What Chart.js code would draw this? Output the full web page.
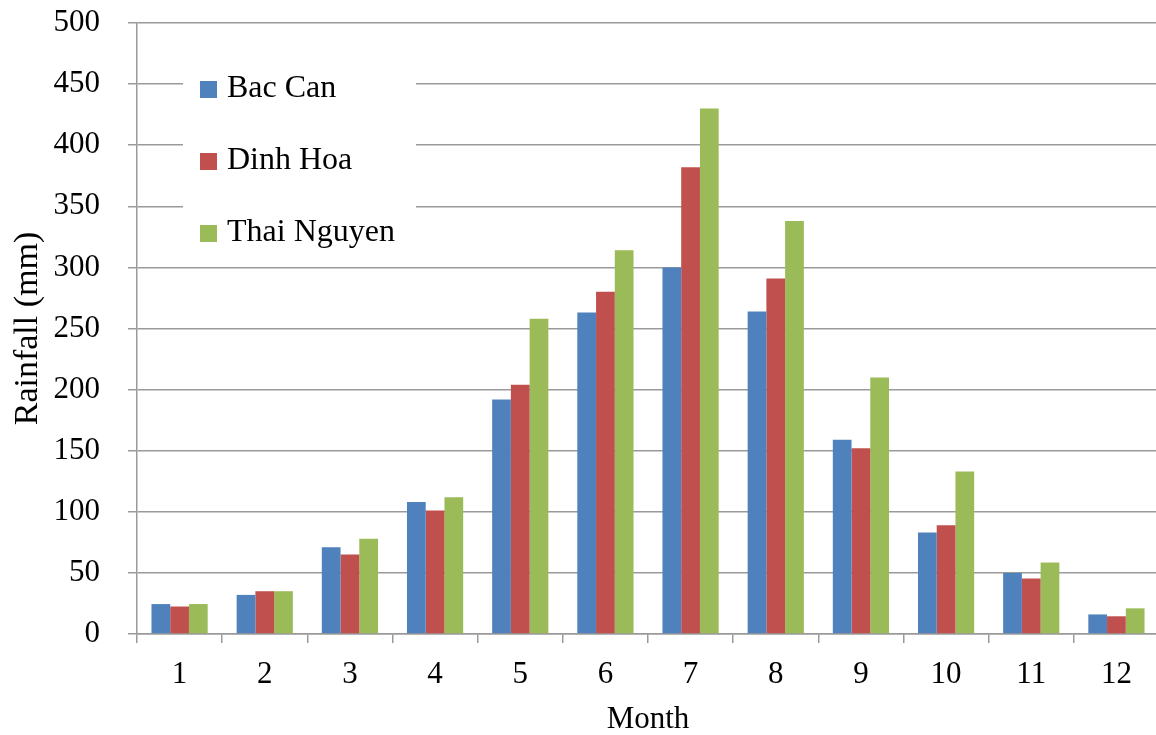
<!DOCTYPE html>
<html>
<head>
<meta charset="utf-8">
<script src="https://cdn.jsdelivr.net/npm/chart.js@4.4.1/dist/chart.umd.min.js"></script>
<style>
  html, body { margin: 0; padding: 0; background: #ffffff; overflow: hidden; }
  #wrap { position: relative; width: 1160px; height: 735px; }
</style>
</head>
<body>
<div id="wrap"><canvas id="c"></canvas></div>
<script>
// Monthly rainfall (mm) at three stations
const months = ['1', '2', '3', '4', '5', '6', '7', '8', '9', '10', '11', '12'];
const bacCan = [24.5, 32, 71, 108, 192, 263, 300, 264, 159, 83, 50, 16];
const dinhHoa = [22.5, 35, 65, 101, 204, 280, 382, 291, 152, 89, 45.5, 14.5];
const thaiNguyen = [24.5, 35, 78, 112, 258, 314, 430, 338, 210, 133, 58.5, 21];
const seriesNames = ['Bac Can', 'Dinh Hoa', 'Thai Nguyen'];
const seriesColors = ['#4F81BD', '#C0504D', '#9BBB59'];
const yTicks = [0, 50, 100, 150, 200, 250, 300, 350, 400, 450, 500];

const FONT = "'Liberation Serif', 'Times New Roman', serif";
const GRID = '#9a9a9a';

// Legend drawn inside the plot area, stacked vertically on a white box
const innerLegend = {
  id: 'innerLegend',
  afterDatasetsDraw(chart) {
    const { ctx, chartArea } = chart;
    const x0 = chartArea.left + 46;
    ctx.save();
    ctx.fillStyle = '#ffffff';
    ctx.fillRect(x0, chartArea.top + 32, 233, 196);
    ctx.font = '32px ' + FONT;
    ctx.textBaseline = 'middle';
    ctx.textAlign = 'left';
    chart.data.datasets.forEach((ds, i) => {
      const cy = chartArea.top + 66 + i * 72;
      ctx.fillStyle = ds.backgroundColor;
      ctx.fillRect(chartArea.left + 63, cy - 8, 17, 17);
      ctx.fillStyle = '#000000';
      ctx.fillText(ds.label, chartArea.left + 90, cy);
    });
    ctx.restore();
  }
};

new Chart(document.getElementById('c'), {
  type: 'bar',
  data: {
    labels: months,
    datasets: [bacCan, dinhHoa, thaiNguyen].map((vals, i) => ({
      label: seriesNames[i],
      data: vals,
      backgroundColor: seriesColors[i],
      borderWidth: 0,
      categoryPercentage: 0.66,
      barPercentage: 1.0
    }))
  },
  options: {
    responsive: true,
    maintainAspectRatio: false,
    animation: false,
    layout: { padding: { top: 0, right: 1, left: 0, bottom: 0 } },
    plugins: {
      legend: { display: false },
      tooltip: { enabled: false }
    },
    scales: {
      x: {
        offset: true,
        grid: {
          offset: true,
          drawOnChartArea: false,
          drawTicks: true,
          tickLength: 9,
          color: GRID,
          lineWidth: 1.5
        },
        border: { color: GRID, width: 1.5 },
        ticks: {
          color: '#000000',
          padding: 13,
          font: { family: FONT, size: 31 }
        },
        title: {
          display: true,
          text: 'Month',
          color: '#000000',
          font: { family: FONT, size: 31, lineHeight: 1.0 },
          padding: 0
        },
        afterFit(scale) { scale.height = 101; }
      },
      y: {
        min: 0,
        max: 500,
        afterBuildTicks(scale) { scale.ticks = yTicks.map(v => ({ value: v })); },
        grid: {
          color: GRID,
          lineWidth: 1.5,
          tickLength: 9
        },
        border: { color: GRID, width: 1.5 },
        ticks: {
          color: '#000000',
          padding: 28,
          font: { family: FONT, size: 31 }
        },
        title: {
          display: true,
          text: 'Rainfall (mm)',
          color: '#000000',
          font: { family: FONT, size: 34, lineHeight: 1.0 },
          padding: { top: 11, bottom: 0 }
        },
        afterFit(scale) {
          scale.width = 137;
          scale.paddingTop = 23;
          scale.paddingBottom = 0;
        }
      }
    }
  },
  plugins: [innerLegend]
});
</script>
</body>
</html>
